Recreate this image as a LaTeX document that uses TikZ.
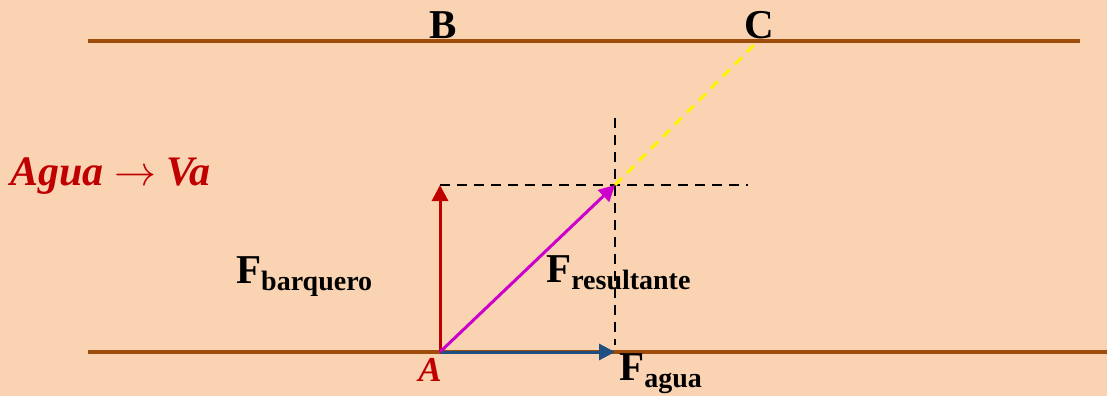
\documentclass[tikz,border=0pt]{standalone}
\usepackage{fix-cm}
\usepackage{fontspec}
\setmainfont{Liberation Serif}
\usetikzlibrary{arrows.meta}

\definecolor{fondo}{RGB}{250,212,178}
\definecolor{orilla}{RGB}{160,76,10}
\definecolor{rojo}{RGB}{192,0,0}
\definecolor{azul}{RGB}{31,78,128}
\definecolor{morado}{RGB}{204,0,204}

\newcommand{\fuerza}[1]{F\raisebox{-7pt}{\fontsize{28}{30}\selectfont #1}}

\tikzset{
  vector/.style={line width=3pt, -{Triangle[length=16pt,width=16pt]}},
  guia/.style={black, line width=2.5pt, dash pattern=on 10pt off 7pt},
  rotulo/.style={inner sep=0pt, font=\bfseries\fontsize{41}{46}\selectfont}
}

\begin{document}
\begin{tikzpicture}[x=1pt, y=-1pt]

% Background
\fill[fondo] (0,0) rectangle (1107,396);
\useasboundingbox (0,0) rectangle (1107,396);

% Draw the river banks
\coordinate (orilla1a) at (88,41);
\coordinate (orilla1b) at (1080,41);
\coordinate (orilla2a) at (88,352);
\coordinate (orilla2b) at (1107,352);
\draw[orilla, line width=4pt] (orilla1a) -- (orilla1b);
\draw[orilla, line width=4pt] (orilla2a) -- (orilla2b);

% Points
\coordinate (A) at (440,352);
\coordinate (Bar) at (440,185);
\coordinate (Ag) at (615,352);
\coordinate (R) at (615,185);
\coordinate (C) at (758,41);
\coordinate (vtop) at (615,118);
\coordinate (vbot) at (615,345);
\coordinate (hend) at (748,185);

% Dashed guides
\draw[guia] (Bar) -- (hend);
\draw[guia] (vtop) -- (vbot);

% Yellow path to C
\draw[yellow, line width=3pt, dash pattern=on 10pt off 7pt] (R) -- (C);

% Vectors
\draw[vector, rojo] (A) -- (Bar);
\draw[vector, azul] (A) -- (Ag);
\draw[vector, morado] (A) -- (R);

% Labels
\node[rotulo, anchor=base] (labB) at (443,38) {B};
\node[rotulo, anchor=base] (labC) at (759,38) {C};
\node[rotulo, anchor=base, rojo, font=\bfseries\itshape\fontsize{35}{40}\selectfont] (labA) at (430,381) {A};
\node[rotulo, anchor=base west, rojo, font=\bfseries\itshape\fontsize{42}{46}\selectfont] (agua) at (10,185) {Agua $\rightarrow$ Va};
\node[rotulo, anchor=base west] (fbar) at (236,283) {\fuerza{barquero}};
\node[rotulo, anchor=base west] (fres) at (546,282) {\fuerza{resultante}};
\node[rotulo, anchor=base west] (fagua) at (619,380) {\fuerza{agua}};

\end{tikzpicture}
\end{document}
